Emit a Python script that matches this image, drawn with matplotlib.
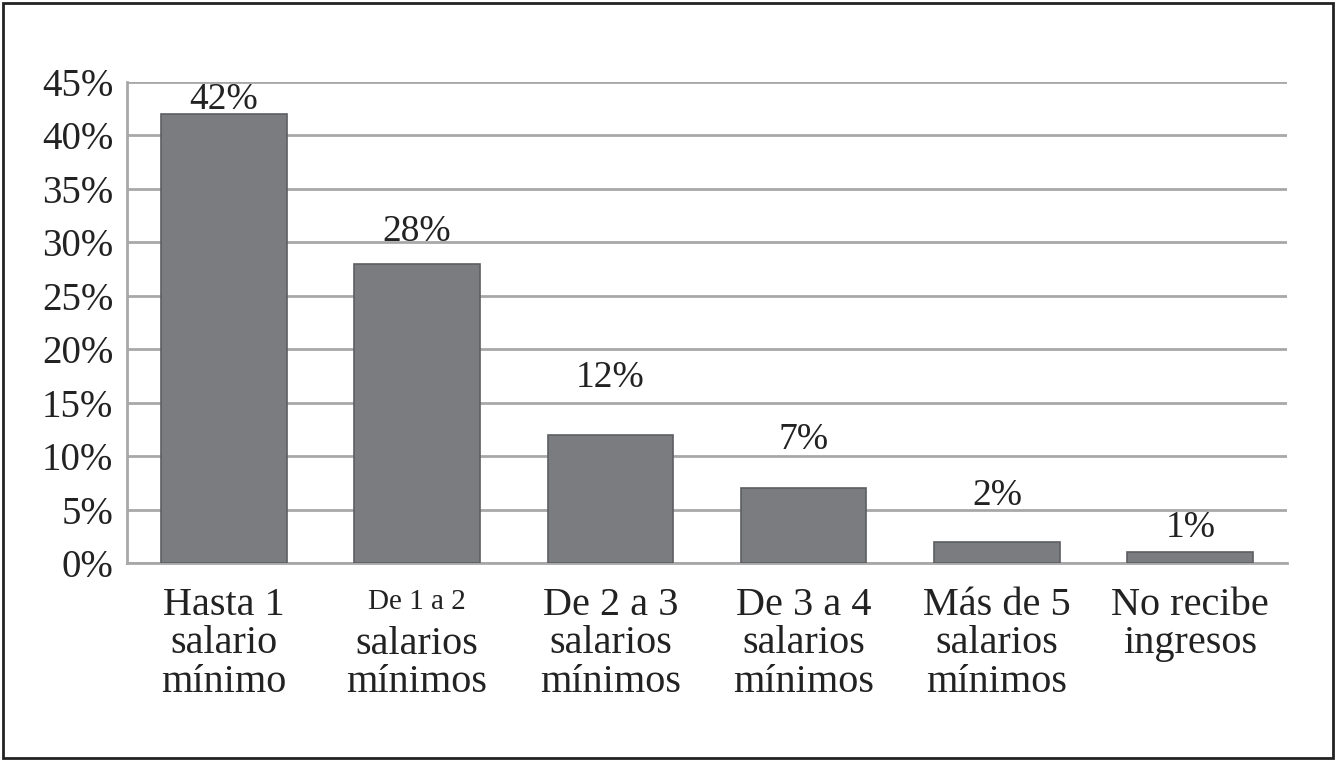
import matplotlib.pyplot as plt
from matplotlib.patches import Rectangle
import numpy as np

# data
categories = ['Hasta 1\nsalario\nmínimo', 'De 1 a 2\nsalarios\nmínimos', 'De 2 a 3\nsalarios\nmínimos',
              'De 3 a 4\nsalarios\nmínimos', 'Más de 5\nsalarios\nmínimos', 'No recibe\ningresos']
values = [42, 28, 12, 7, 2, 1]
value_labels = ['42%', '28%', '12%', '7%', '2%', '1%']
yticks = [0, 5, 10, 15, 20, 25, 30, 35, 40, 45]
ytick_labels = ['0%', '5%', '10%', '15%', '20%', '25%', '30%', '35%', '40%', '45%']

# label gaps above bars (points), as placed in the original
label_gap = [10, 23, 41, 35, 33, 18]
small_first_line = [1]   # category whose first line is set smaller

plt.rcParams['font.family'] = ['Liberation Serif', 'DejaVu Serif']

fig = plt.figure(figsize=(13.36, 7.61), dpi=100)
ax = fig.add_axes([0.0951, 0.2602, 0.9633 - 0.0951, 0.8922 - 0.2602])

x = np.arange(len(values))
ax.bar(x, values, width=0.65, color='#7b7c80', edgecolor='#5e5f63', linewidth=1.2, zorder=3)

for i, v in enumerate(values):
    ax.annotate(value_labels[i], (x[i], v), xytext=(0, label_gap[i]), textcoords='offset points',
                ha='center', va='center', fontsize=27, color='#222222')

ax.set_xlim(-0.5, len(values) - 0.5)
ax.set_ylim(0, 45)
ax.set_yticks(yticks)
ax.set_yticklabels(ytick_labels, fontsize=28, color='#222222')
ax.set_xticks(x)
ax.set_xticklabels([])
ax.tick_params(axis='both', length=0)
ax.tick_params(axis='y', pad=10)

# category labels
line_h = 28.1  # points between lines
for i, lab in enumerate(categories):
    lines = lab.split('\n')
    if i in small_first_line:
        ax.annotate(lines[0], (x[i], 0), xycoords=('data', 'axes fraction'), xytext=(0, -28),
                    textcoords='offset points', ha='center', va='center', fontsize=21, color='#222222')
        rest = '\n'.join(lines[1:])
        ax.annotate(rest, (x[i], 0), xycoords=('data', 'axes fraction'), xytext=(0, -17 - line_h),
                    textcoords='offset points', ha='center', va='top', fontsize=29,
                    linespacing=1.055, color='#222222')
    else:
        ax.annotate(lab, (x[i], 0), xycoords=('data', 'axes fraction'), xytext=(0, -17),
                    textcoords='offset points', ha='center', va='top', fontsize=29,
                    linespacing=1.055, color='#222222')

ax.yaxis.grid(True, color='#a8a8a8', linewidth=2, zorder=0)
for s in ['top', 'right']:
    ax.spines[s].set_visible(False)
for s in ['left', 'bottom']:
    ax.spines[s].set_color('#a8a8a8')
    ax.spines[s].set_linewidth(2)

# outer frame
fig.patches.append(Rectangle((0.002, 0.004), 0.996, 0.992, transform=fig.transFigure,
                             fill=False, edgecolor='#222222', linewidth=2))

fig.savefig('out.png', dpi=100)
